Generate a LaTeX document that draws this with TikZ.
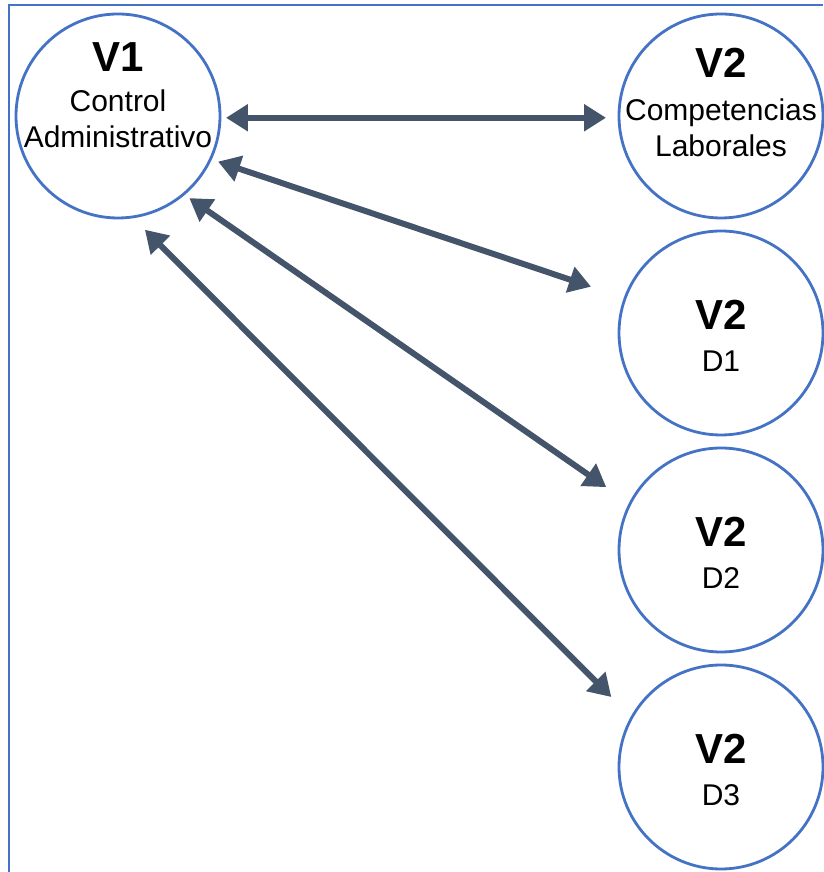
\documentclass[tikz,border=0pt]{standalone}
\usepackage{fontspec}
\setmainfont{Liberation Sans}
\usetikzlibrary{arrows.meta, positioning}
\definecolor{circblue}{HTML}{4472C4}
\definecolor{slate}{HTML}{44546A}

\begin{document}
\begin{tikzpicture}[x=1pt, y=1pt, node distance=13pt, outer sep=0pt]

\tikzstyle{var}=[circle, draw=circblue, line width=2.8pt, minimum size=204pt, inner sep=0pt]
\tikzstyle{title}=[anchor=base, inner sep=0pt, font=\bfseries\fontsize{42}{46}\selectfont]
\tikzstyle{sub}=[anchor=base, inner sep=0pt, align=center, font=\fontsize{30}{36}\selectfont]
\tikzstyle{link}=[color=slate, line width=6pt, >={Triangle[length=22pt,width=26pt]}, <->]

\useasboundingbox (0,0) rectangle (823,872);
\draw[circblue, line width=1.5pt] (9,0) -- (9,867) -- (823,867);

\node[var] (v1) at (118,756) {};
\node[var] (v2) at (721,756) {};
\node[var] (d1) [below = of v2] {};
\node[var] (d2) [below = of d1] {};
\node[var] (d3) [below = of d2] {};

% base of a two-line text is its last line
\node[title] (v1title) at ([yshift=44pt]v1.center) {V1};
\node[sub] (v1text) at ([yshift=-32pt]v1.center) {Control\\Administrativo};
\node[title] (v2title) at ([yshift=38pt]v2.center) {V2};
\node[sub] (v2text) at ([yshift=-41pt]v2.center) {Competencias\\Laborales};
\node[title] (d1title) at ([yshift=3pt]d1.center) {V2};
\node[sub] (d1text) at ([yshift=-39pt]d1.center) {D1};
\node[title] (d2title) at ([yshift=3pt]d2.center) {V2};
\node[sub] (d2text) at ([yshift=-39pt]d2.center) {D2};
\node[title] (d3title) at ([yshift=3pt]d3.center) {V2};
\node[sub] (d3text) at ([yshift=-39pt]d3.center) {D3};

\draw[link, shorten <=6pt, shorten >=13pt] (v1.-1) -- (v2.181);
\draw[link, shorten <=8pt, shorten >=36pt] (v1.-25) -- (d1.160);
\draw[link, shorten <=7pt, shorten >=29pt] (v1.-50.6) -- (d2.153);
\draw[link, shorten <=18pt, shorten >=29pt] (v1.-82) -- (d3.151);
\end{tikzpicture}
\end{document}
